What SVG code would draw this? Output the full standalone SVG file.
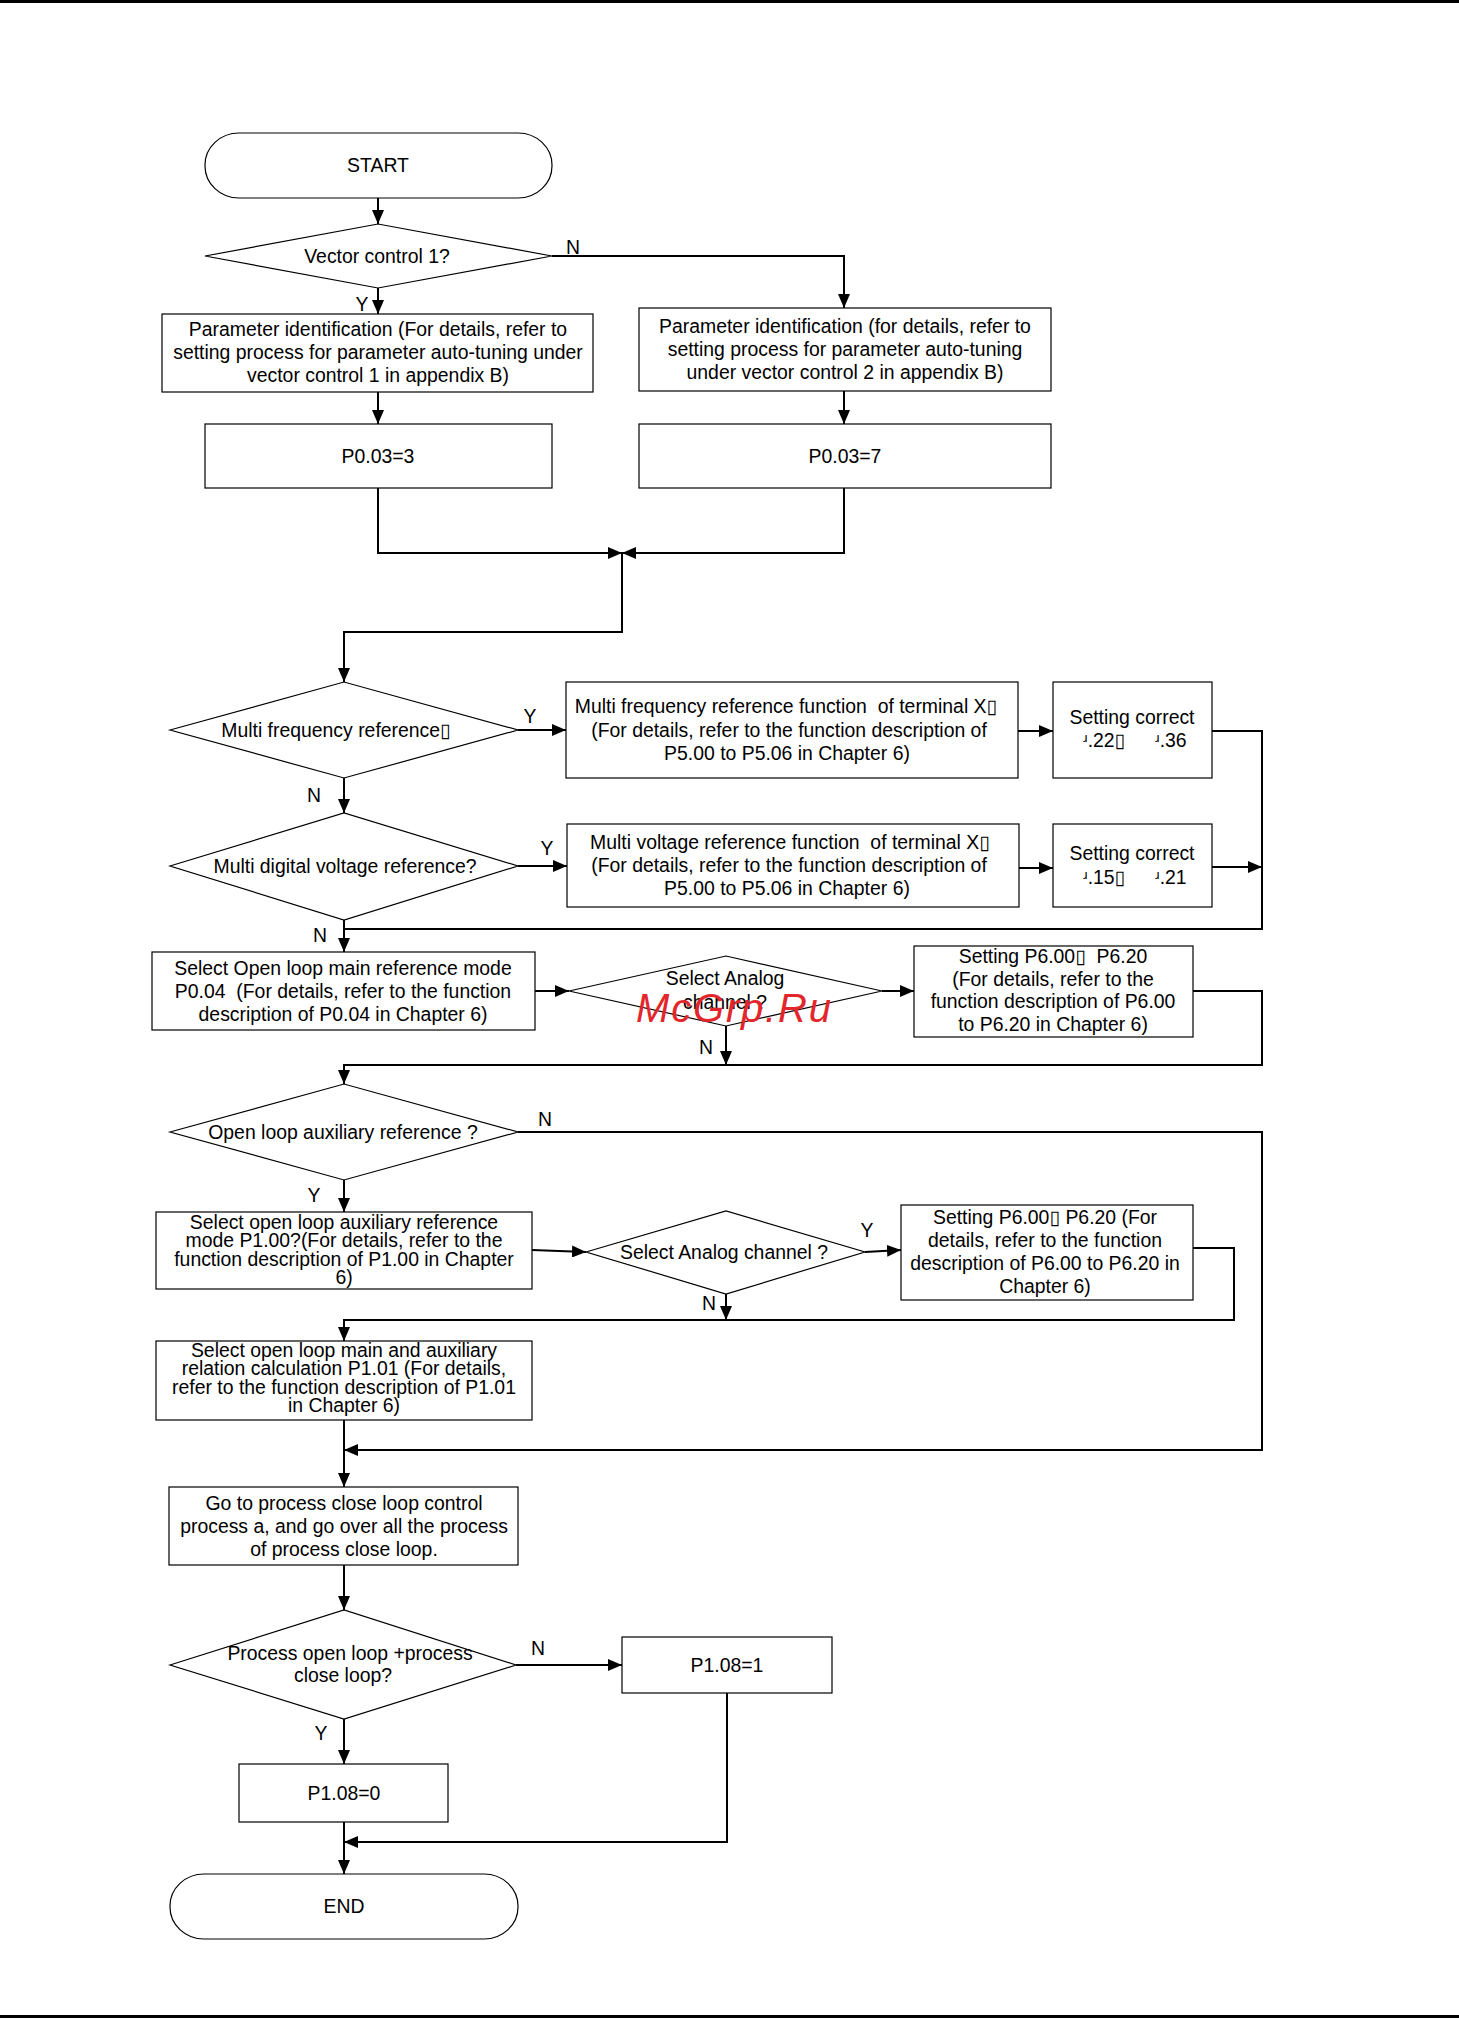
<svg xmlns="http://www.w3.org/2000/svg" width="1459" height="2019" viewBox="0 0 1459 2019">
<style>
.s{fill:#fff;stroke:#000;stroke-width:1.2}
.c{fill:none;stroke:#000;stroke-width:2}
text{font-family:"Liberation Sans",Arial,"DejaVu Sans",sans-serif;font-size:19.4px;fill:#000;text-anchor:middle}
.st{text-anchor:start}
.wm{font-family:"Liberation Sans",Arial,sans-serif;font-style:italic;font-size:40px;fill:#e3262b;text-anchor:start}
</style>
<defs>
<marker id="a" markerUnits="userSpaceOnUse" markerWidth="14" markerHeight="12" refX="14" refY="6" orient="auto">
<path d="M0,0 L14,6 L0,12 z" fill="#000"/>
</marker>
</defs>
<rect x="0" y="0" width="1459" height="3" fill="#000"/>
<rect x="0" y="2015" width="1459" height="3" fill="#000"/>

<g id="connectors">
<path class="c" d="M378,198 V224" marker-end="url(#a)"/>
<path class="c" d="M552,256 H844 V308" marker-end="url(#a)"/>
<path class="c" d="M378,288 V314" marker-end="url(#a)"/>
<path class="c" d="M378,392 V424" marker-end="url(#a)"/>
<path class="c" d="M844,391 V424" marker-end="url(#a)"/>
<path class="c" d="M378,488 V553 H622" marker-end="url(#a)"/>
<path class="c" d="M844,488 V553 H622" marker-end="url(#a)"/>
<path class="c" d="M622,553 V632 H344 V682" marker-end="url(#a)"/>
<path class="c" d="M518,730 H566" marker-end="url(#a)"/>
<path class="c" d="M1018,731 H1053" marker-end="url(#a)"/>
<path class="c" d="M1212,731 H1262 V929 H344"/>
<path class="c" d="M344,778 V813" marker-end="url(#a)"/>
<path class="c" d="M518,866 H567" marker-end="url(#a)"/>
<path class="c" d="M1019,868 H1053" marker-end="url(#a)"/>
<path class="c" d="M1212,867 H1262" marker-end="url(#a)"/>
<path class="c" d="M344,920 V952" marker-end="url(#a)"/>
<path class="c" d="M535,991 H569" marker-end="url(#a)"/>
<path class="c" d="M882,991 H914" marker-end="url(#a)"/>
<path class="c" d="M726,1026 V1065" marker-end="url(#a)"/>
<path class="c" d="M1193,991 H1262 V1065 H344 V1084" marker-end="url(#a)"/>
<path class="c" d="M518,1132 H1262 V1450 H344" marker-end="url(#a)"/>
<path class="c" d="M344,1180 V1212" marker-end="url(#a)"/>
<path class="c" d="M532,1250 L586,1252" marker-end="url(#a)"/>
<path class="c" d="M865,1252 L901,1250" marker-end="url(#a)"/>
<path class="c" d="M1193,1248 H1234 V1320 H344 V1341" marker-end="url(#a)"/>
<path class="c" d="M726,1294 V1320" marker-end="url(#a)"/>
<path class="c" d="M344,1420 V1487" marker-end="url(#a)"/>
<path class="c" d="M344,1565 V1610" marker-end="url(#a)"/>
<path class="c" d="M516,1665 H622" marker-end="url(#a)"/>
<path class="c" d="M344,1719 V1764" marker-end="url(#a)"/>
<path class="c" d="M344,1822 V1874" marker-end="url(#a)"/>
<path class="c" d="M727,1693 V1842 H344" marker-end="url(#a)"/>
</g>

<g id="labels">
<text x="573" y="254">N</text>
<text x="362" y="311">Y</text>
<text x="530" y="723">Y</text>
<text x="314" y="802">N</text>
<text x="547" y="855">Y</text>
<text x="320" y="942">N</text>
<text x="706" y="1054">N</text>
<text x="545" y="1126">N</text>
<text x="314" y="1202">Y</text>
<text x="867" y="1237">Y</text>
<text x="709" y="1310">N</text>
<text x="538" y="1655">N</text>
<text x="321" y="1740">Y</text>
</g>

<g id="start">
<rect class="s" x="205" y="133" width="347" height="65" rx="34" ry="32"/>
<text x="378" y="172">START</text>
</g>
<g id="vector">
<polygon class="s" points="205,256 378,224 552,256 378,288"/>
<text x="377" y="263">Vector control 1?</text>
</g>
<g id="param1">
<rect class="s" x="162" y="314" width="431" height="78"/>
<text x="378" y="336">Parameter identification (For details, refer to</text>
<text x="378" y="359">setting process for parameter auto-tuning under</text>
<text x="378" y="382">vector control 1 in appendix B)</text>
</g>
<g id="param2">
<rect class="s" x="639" y="308" width="412" height="83"/>
<text x="845" y="333">Parameter identification (for details, refer to</text>
<text x="845" y="356">setting process for parameter auto-tuning</text>
<text x="845" y="379">under vector control 2 in appendix B)</text>
</g>
<g id="p003_3">
<rect class="s" x="205" y="424" width="347" height="64"/>
<text x="378" y="463">P0.03=3</text>
</g>
<g id="p003_7">
<rect class="s" x="639" y="424" width="412" height="64"/>
<text x="845" y="463">P0.03=7</text>
</g>
<g id="multifreq">
<polygon class="s" points="170,730 344,682 518,730 344,778"/>
<text x="336" y="737">Multi frequency reference▯</text>
</g>
<g id="multifreqbox">
<rect class="s" x="566" y="682" width="452" height="96"/>
<text x="786" y="713" xml:space="preserve">Multi frequency reference function  of terminal X▯</text>
<text x="789" y="737">(For details, refer to the function description of</text>
<text x="787" y="760">P5.00 to P5.06 in Chapter 6)</text>
</g>
<g id="set1">
<rect class="s" x="1053" y="682" width="159" height="96"/>
<text x="1132" y="724">Setting correct</text>
<text class="st" x="1083" y="747">ʴ.22▯</text>
<text class="st" x="1155" y="747">ʴ.36</text>
</g>
<g id="multivolt">
<polygon class="s" points="170,866 344,813 518,866 344,920"/>
<text x="345" y="873">Multi digital voltage reference?</text>
</g>
<g id="multivoltbox">
<rect class="s" x="567" y="824" width="452" height="83"/>
<text x="790" y="849" xml:space="preserve">Multi voltage reference function  of terminal X▯</text>
<text x="789" y="872">(For details, refer to the function description of</text>
<text x="787" y="895">P5.00 to P5.06 in Chapter 6)</text>
</g>
<g id="set2">
<rect class="s" x="1053" y="824" width="159" height="83"/>
<text x="1132" y="860">Setting correct</text>
<text class="st" x="1083" y="884">ʴ.15▯</text>
<text class="st" x="1155" y="884">ʴ.21</text>
</g>
<g id="openmain">
<rect class="s" x="152" y="952" width="383" height="78"/>
<text x="343" y="975">Select Open loop main reference mode</text>
<text x="343" y="998" xml:space="preserve">P0.04  (For details, refer to the function</text>
<text x="343" y="1021">description of P0.04 in Chapter 6)</text>
</g>
<g id="analog1">
<polygon class="s" points="569,991 726,956 882,991 726,1026"/>
<text x="725" y="985">Select Analog</text>
<text x="725" y="1009">channel ?</text>
</g>
<g id="setp6a">
<rect class="s" x="914" y="946" width="279" height="91"/>
<text x="1053" y="963" xml:space="preserve">Setting P6.00▯  P6.20</text>
<text x="1053" y="986">(For details, refer to the</text>
<text x="1053" y="1008">function description of P6.00</text>
<text x="1053" y="1031">to P6.20 in Chapter 6)</text>
</g>
<g id="openaux">
<polygon class="s" points="170,1132 344,1084 518,1132 344,1180"/>
<text x="343" y="1139">Open loop auxiliary reference ?</text>
</g>
<g id="auxmode">
<rect class="s" x="156" y="1212" width="376" height="77"/>
<text x="344" y="1229">Select open loop auxiliary reference</text>
<text x="344" y="1247">mode P1.00?(For details, refer to the</text>
<text x="344" y="1266">function description of P1.00 in Chapter</text>
<text x="344" y="1284">6)</text>
</g>
<g id="analog2">
<polygon class="s" points="586,1252 726,1211 865,1252 726,1294"/>
<text x="724" y="1259">Select Analog channel ?</text>
</g>
<g id="setp6b">
<rect class="s" x="901" y="1205" width="292" height="95"/>
<text x="1045" y="1224">Setting P6.00▯  P6.20 (For</text>
<text x="1045" y="1247">details, refer to the function</text>
<text x="1045" y="1270">description of P6.00 to P6.20 in</text>
<text x="1045" y="1293">Chapter 6)</text>
</g>
<g id="relation">
<rect class="s" x="156" y="1341" width="376" height="79"/>
<text x="344" y="1357">Select open loop main and auxiliary</text>
<text x="344" y="1375">relation calculation P1.01 (For details,</text>
<text x="344" y="1394">refer to the function description of P1.01</text>
<text x="344" y="1412">in Chapter 6)</text>
</g>
<g id="goto">
<rect class="s" x="169" y="1487" width="349" height="78"/>
<text x="344" y="1510">Go to process close loop control</text>
<text x="344" y="1533">process a, and go over all the process</text>
<text x="344" y="1556">of process close loop.</text>
</g>
<g id="process">
<polygon class="s" points="170,1665 344,1610 516,1665 344,1719"/>
<text x="350" y="1660">Process open loop +process</text>
<text x="343" y="1682">close loop?</text>
</g>
<g id="p108_1">
<rect class="s" x="622" y="1637" width="210" height="56"/>
<text x="727" y="1672">P1.08=1</text>
</g>
<g id="p108_0">
<rect class="s" x="239" y="1764" width="209" height="58"/>
<text x="344" y="1800">P1.08=0</text>
</g>
<g id="end">
<rect class="s" x="170" y="1874" width="348" height="65" rx="34" ry="32"/>
<text x="344" y="1913">END</text>
</g>
<text class="wm" x="636" y="1022" textLength="195">McGrp.Ru</text>
</svg>
